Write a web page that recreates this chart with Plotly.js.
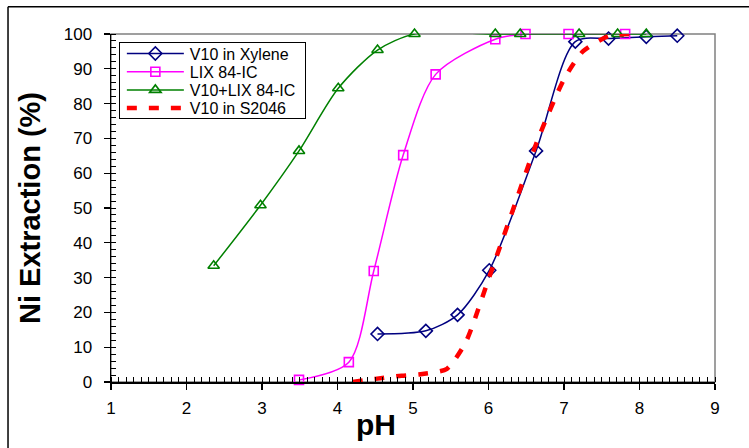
<!DOCTYPE html>
<html>
<head>
<meta charset="utf-8">
<script src="https://cdn.plot.ly/plotly-3.0.1.min.js"></script>
<style>
  html, body { margin: 0; padding: 0; background: #ffffff; }
  #chart { width: 749px; height: 448px; }
</style>
</head>
<body>
<div id="chart"></div>
<script>
// Nickel extraction versus equilibrium pH for four extractant systems
const phXylene  = [4.53, 5.17, 5.59, 6.01, 6.63, 7.15, 7.59, 8.09, 8.50];
const extXylene = [13.8, 14.7, 19.3, 32.1, 66.4, 97.8, 98.7, 99.2, 99.5];

const phLix  = [3.49, 4.15, 4.48, 4.87, 5.30, 6.09, 6.49, 7.06, 7.81];
const extLix = [0.6, 5.7, 31.9, 65.2, 88.4, 98.5, 100, 100, 100];

const phMix  = [2.36, 2.98, 3.49, 4.01, 4.53, 5.02, 6.09, 6.42, 7.20, 7.71, 8.09];
const extMix = [33.4, 50.8, 66.4, 84.4, 95.4, 100, 100, 100, 100, 100, 100];

const phS2046  = [4.20, 4.50, 4.85, 5.10, 5.45, 5.70, 6.00, 6.30, 6.65, 7.00, 7.25, 7.60, 7.95];
const extS2046 = [0, 0.9, 1.8, 2.2, 3.8, 11.5, 29.5, 48, 69.5, 87, 95, 99.5, 100];

const seriesNames = ['V10 in Xylene', 'LIX 84-IC', 'V10+LIX 84-IC', 'V10 in S2046'];

const xTickVals = [1, 2, 3, 4, 5, 6, 7, 8, 9];
const yTickVals = [0, 10, 20, 30, 40, 50, 60, 70, 80, 90, 100];

const FONT = 'Liberation Sans, Arial, sans-serif';

const traces = [
  {
    x: phXylene, y: extXylene, name: seriesNames[0],
    type: 'scatter', mode: 'lines+markers', cliponaxis: false,
    line: { color: '#000080', width: 1.5, shape: 'spline', smoothing: 0.8 },
    marker: { symbol: 'diamond-open', size: 10, color: '#000080', line: { width: 1.6 } }
  },
  {
    x: phLix, y: extLix, name: seriesNames[1],
    type: 'scatter', mode: 'lines+markers', cliponaxis: false,
    line: { color: '#FF00FF', width: 1.5, shape: 'spline', smoothing: 0.8 },
    marker: { symbol: 'square-open', size: 9, color: '#FF00FF', line: { width: 1.6 } }
  },
  {
    x: phMix, y: extMix, name: seriesNames[2],
    type: 'scatter', mode: 'lines+markers', cliponaxis: false,
    line: { color: '#008000', width: 1.5, shape: 'spline', smoothing: 0.8 },
    marker: { symbol: 'triangle-up-open', size: 10, color: '#008000', line: { width: 1.6 } }
  },
  {
    x: phS2046, y: extS2046, name: seriesNames[3],
    type: 'scatter', mode: 'lines', cliponaxis: false,
    line: { color: '#FF0000', width: 4.5, dash: '10px,12px', shape: 'spline', smoothing: 0.6 }
  }
];

const tickFont = { family: FONT, size: 17, color: '#000000' };

const layout = {
  width: 749, height: 448,
  margin: { l: 111, r: 34, t: 34, b: 66, pad: 0 },
  paper_bgcolor: '#ffffff', plot_bgcolor: '#ffffff',
  showlegend: true,
  legend: {
    x: 0.013, y: 0.977, xanchor: 'left', yanchor: 'top',
    bgcolor: '#ffffff', bordercolor: '#000000', borderwidth: 1,
    font: { family: FONT, size: 16, color: '#000000' },
    tracegroupgap: 0
  },
  xaxis: {
    range: [1, 9], tickmode: 'array', tickvals: xTickVals, ticktext: xTickVals.map(String),
    showgrid: false, zeroline: false,
    showline: true, linecolor: '#000000', linewidth: 1.5,
    ticks: 'outside', ticklen: 6, tickwidth: 1.2, tickcolor: '#000000',
    ticklabelstandoff: 4,
    minor: { dtick: 0.1, ticks: 'inside', ticklen: 5, tickwidth: 1, tickcolor: '#000000', showgrid: false },
    tickfont: tickFont
  },
  yaxis: {
    range: [0, 100], tickmode: 'array', tickvals: yTickVals, ticktext: yTickVals.map(String),
    showgrid: false, zeroline: false,
    showline: true, linecolor: '#000000', linewidth: 1.5,
    ticks: 'outside', ticklen: 6, tickwidth: 1.2, tickcolor: '#000000',
    ticklabelstandoff: 8,
    minor: { dtick: 2, ticks: 'inside', ticklen: 5, tickwidth: 1, tickcolor: '#000000', showgrid: false },
    tickfont: tickFont,
    title: { text: 'Ni Extraction (%)', standoff: 14,
             font: { family: FONT, size: 29, color: '#000000', weight: 'bold' } }
  },
  annotations: [
    {
      text: '<b>pH</b>', xref: 'paper', yref: 'paper', x: 0.439, y: -0.07,
      xanchor: 'center', yanchor: 'top', showarrow: false,
      font: { family: FONT, size: 30, color: '#000000' }
    }
  ],
  shapes: [
    // grey frame around the plotting area
    { type: 'rect', xref: 'paper', yref: 'paper', x0: 0, x1: 1, y0: 0, y1: 1,
      line: { color: '#808080', width: 1.5 }, layer: 'below' },
    // outer figure border (left and top edges)
    { type: 'line', xref: 'paper', yref: 'paper', x0: -0.1705, x1: -0.1705, y0: 1.078, y1: -0.3,
      line: { color: '#000000', width: 1.5 } },
    { type: 'line', xref: 'paper', yref: 'paper', x0: -0.1705, x1: 1.1, y0: 1.078, y1: 1.078,
      line: { color: '#000000', width: 1.5 } }
  ]
};

// Tighten the legend: compact rows, longer line samples, fixed box size
function compactLegend(gd) {
  const items = gd.querySelectorAll('g.legend g.traces');
  if (!items.length) return;
  const step = 18.2, firstY = 11.5, boxW = 186, boxH = 76;
  items.forEach((g, i) => {
    const m = /translate\(\s*([-\d.]+)[ ,]+([-\d.]+)\s*\)/.exec(g.getAttribute('transform') || '');
    const tx = m ? parseFloat(m[1]) : 0;
    g.setAttribute('transform', 'translate(' + tx + ',' + (firstY + i * step) + ')');
    g.querySelectorAll('path.js-line').forEach(p => p.setAttribute('d', 'M7,0h57'));
    g.querySelectorAll('.legendpoints path').forEach(p => p.setAttribute('transform', 'translate(35.5,0)'));
    const t = g.querySelector('text.legendtext');
    if (t) t.setAttribute('x', 70);
    const toggle = g.querySelector('rect.legendtoggle');
    if (toggle) toggle.setAttribute('width', boxW);
  });
  const bg = gd.querySelector('g.legend rect.bg');
  if (bg) { bg.setAttribute('width', boxW); bg.setAttribute('height', boxH); }
  gd.querySelectorAll('g.legend clipPath rect, defs clipPath[id*="legend"] rect').forEach(r => {
    r.setAttribute('width', boxW); r.setAttribute('height', boxH);
  });
}

Plotly.newPlot('chart', traces, layout, { staticPlot: true, displayModeBar: false })
  .then(gd => { try { compactLegend(gd); } catch (e) { /* keep default legend */ } });
</script>
</body>
</html>
